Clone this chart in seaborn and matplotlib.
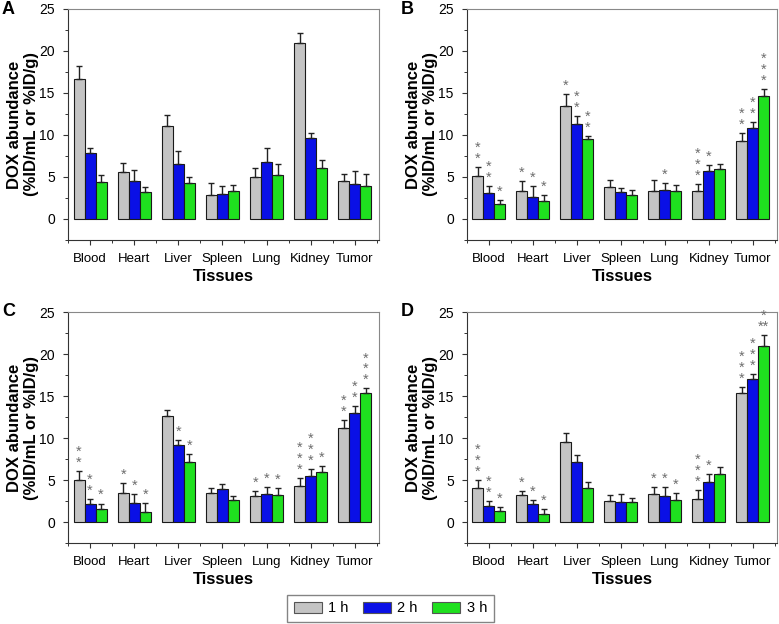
import numpy as np
import pandas as pd
import matplotlib
matplotlib.use("Agg")
import matplotlib.pyplot as plt
import seaborn as sns
from matplotlib.ticker import FixedLocator
from matplotlib.patches import Patch

tissues = ["Blood", "Heart", "Liver", "Spleen", "Lung", "Kidney", "Tumor"]
times = ["1 h", "2 h", "3 h"]
colors = ["#c4c4c4", "#0a10e6", "#1fe01f"]

# Panel A
a_1h = [16.7, 5.6, 11.1, 2.8, 5.0, 21.0, 4.5]
a_2h = [7.9, 4.5, 6.6, 3.0, 6.8, 9.6, 4.2]
a_3h = [4.4, 3.2, 4.3, 3.3, 5.2, 6.1, 3.9]
a_e1 = [1.5, 1.1, 1.3, 1.5, 1.1, 1.1, 0.9]
a_e2 = [0.5, 1.3, 1.5, 0.9, 1.6, 0.6, 1.5]
a_e3 = [0.8, 0.6, 0.7, 0.8, 1.3, 0.9, 1.4]
a_s1 = ["", "", "", "", "", "", ""]
a_s2 = ["", "", "", "", "", "", ""]
a_s3 = ["", "", "", "", "", "", ""]

# Panel B
b_1h = [5.1, 3.3, 13.4, 3.8, 3.3, 3.3, 9.3]
b_2h = [3.1, 2.6, 11.3, 3.2, 3.4, 5.7, 10.8]
b_3h = [1.8, 2.2, 9.5, 2.9, 3.3, 5.9, 14.6]
b_e1 = [1.1, 1.2, 1.5, 0.9, 1.4, 0.9, 0.9]
b_e2 = [0.8, 1.3, 1.0, 0.5, 0.9, 0.7, 0.8]
b_e3 = [0.5, 0.6, 0.4, 0.6, 0.8, 0.7, 0.9]
b_s1 = ["*\n*", "*", "*", "", "", "*\n*\n*", "*\n*"]
b_s2 = ["*\n*", "*", "*\n*", "", "*", "*", "*\n*"]
b_s3 = ["*", "*", "*\n*", "", "", "", "*\n*\n*"]

# Panel C
c_1h = [5.0, 3.5, 12.6, 3.5, 3.1, 4.3, 11.2]
c_2h = [2.1, 2.3, 9.2, 3.9, 3.3, 5.5, 13.0]
c_3h = [1.5, 1.2, 7.2, 2.6, 3.2, 6.0, 15.3]
c_e1 = [1.1, 1.1, 0.7, 0.6, 0.6, 0.9, 0.9]
c_e2 = [0.6, 1.0, 0.6, 0.6, 0.9, 0.8, 0.8]
c_e3 = [0.7, 1.1, 0.9, 0.5, 0.9, 0.7, 0.6]
c_s1 = ["*\n*", "*", "", "", "*", "*\n*\n*", "*\n*"]
c_s2 = ["*\n*", "*", "*", "", "*", "*\n*\n*", "*\n*"]
c_s3 = ["*", "*", "*", "", "*", "*", "*\n*\n*"]

# Panel D
d_1h = [4.1, 3.2, 9.5, 2.5, 3.3, 2.7, 15.3]
d_2h = [1.9, 2.1, 7.2, 2.4, 3.1, 4.8, 17.0]
d_3h = [1.3, 0.9, 4.1, 2.4, 2.6, 5.7, 21.0]
d_e1 = [0.9, 0.5, 1.1, 0.7, 0.9, 1.1, 0.8]
d_e2 = [0.6, 0.5, 0.8, 0.9, 1.1, 0.9, 0.6]
d_e3 = [0.5, 0.6, 0.7, 0.5, 0.9, 0.9, 1.3]
d_s1 = ["*\n*\n*", "*", "", "", "*", "*\n*\n*", "*\n*\n*"]
d_s2 = ["*\n*", "*", "", "", "*", "*", "*\n*\n*"]
d_s3 = ["*", "*", "", "", "*", "", "*\n**"]

panels = [
    ("A", [a_1h, a_2h, a_3h], [a_e1, a_e2, a_e3], [a_s1, a_s2, a_s3]),
    ("B", [b_1h, b_2h, b_3h], [b_e1, b_e2, b_e3], [b_s1, b_s2, b_s3]),
    ("C", [c_1h, c_2h, c_3h], [c_e1, c_e2, c_e3], [c_s1, c_s2, c_s3]),
    ("D", [d_1h, d_2h, d_3h], [d_e1, d_e2, d_e3], [d_s1, d_s2, d_s3]),
]

plt.rcParams["font.family"] = ["Liberation Sans", "DejaVu Sans"]

fig = plt.figure(figsize=(7.79, 6.24), dpi=100)
W, H = 779.0, 624.0
boxes = [(68, 9, 379, 240), (467, 9, 777, 240), (68, 312, 379, 543), (467, 312, 777, 543)]

for (label, vals, errs, stars), (x0, y0, x1, y1) in zip(panels, boxes):
    ax = fig.add_axes([x0 / W, 1 - y1 / H, (x1 - x0) / W, (y1 - y0) / H])
    rows = []
    for t, v in zip(times, vals):
        for tis, val in zip(tissues, v):
            rows.append({"Tissue": tis, "Time": t, "Value": val})
    df = pd.DataFrame(rows)
    sns.barplot(data=df, x="Tissue", y="Value", hue="Time", order=tissues,
                hue_order=times, palette=colors, errorbar=None, width=0.75,
                edgecolor="#1a1a1a", linewidth=0.8, saturation=1, ax=ax, legend=False)
    bar_conts = list(ax.containers)
    for ci, cont in enumerate(bar_conts):
        xs = [p.get_x() + p.get_width() / 2 for p in cont.patches]
        hs = [p.get_height() for p in cont.patches]
        ax.errorbar(xs, hs, yerr=[np.zeros(len(hs)), errs[ci]], fmt="none",
                    ecolor="#222222", elinewidth=1.0, capsize=2.5, capthick=1.0, zorder=1)
        for x, h, e, s in zip(xs, hs, errs[ci], stars[ci]):
            if s:
                ax.text(x, h + e + 0.15, s, ha="center", va="bottom", fontsize=10.5,
                        color="#6e6e6e", linespacing=0.72)
    ax.set_ylim(-2.5, 25)
    ax.set_xlim(-0.5, 6.55)
    ax.yaxis.set_major_locator(FixedLocator([0, 5, 10, 15, 20, 25]))
    ax.yaxis.set_minor_locator(FixedLocator([-2.5, 2.5, 7.5, 12.5, 17.5, 22.5]))
    ax.xaxis.set_minor_locator(FixedLocator(np.arange(-0.5, 7, 1.0)))
    ax.tick_params(axis="both", which="major", length=3.5, width=0.8, labelsize=9.5, color="#333333")
    ax.tick_params(axis="both", which="minor", length=2, width=0.7, color="#333333")
    ax.tick_params(axis="x", which="major", pad=6)
    ax.tick_params(axis="y", which="major", pad=6, labelsize=10)
    for side in ["left", "bottom"]:
        ax.spines[side].set_color("#333333")
    for side in ["top", "right"]:
        ax.spines[side].set_color("#888888")
    ax.set_xlabel("Tissues", fontsize=12, fontweight="bold", labelpad=3)
    ax.set_ylabel("DOX abundance\n(%ID/mL or %ID/g)", fontsize=12, fontweight="bold", labelpad=0)
    ax.text(-0.213, 1.0, label, transform=ax.transAxes, fontsize=13, fontweight="bold",
            ha="left", va="center")

handles = [Patch(facecolor=c, edgecolor="#555555", linewidth=0.8, label=t) for c, t in zip(colors, times)]
fig.legend(handles=handles, loc="center", bbox_to_anchor=(390.5 / W, 1 - 608.5 / H), ncol=3, fontsize=10.5,
           frameon=True, fancybox=False, edgecolor="#666666", handlelength=1.9, handleheight=0.8,
           columnspacing=1.0, handletextpad=0.45, borderpad=0.45)

fig.savefig("out.png", dpi=100)
